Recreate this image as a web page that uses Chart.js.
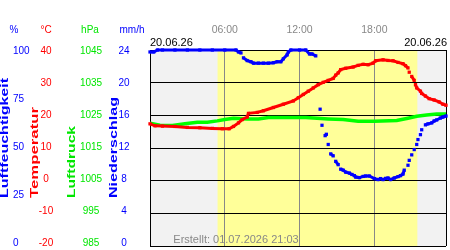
<!DOCTYPE html>
<html>
<head>
<meta charset="utf-8">
<script src="https://cdn.jsdelivr.net/npm/chart.js@4"></script>
<style>
    body { margin: 0; background: #fff; }
    canvas { display: block; }
</style>
</head>
<body>
<canvas id="wetterChart" width="450" height="250"></canvas>
<script>
// Values, hours since midnight (20.06.26)
const humHours = [0, 0.3, 0.6, 1, 2, 3, 4, 5, 6, 6.9, 7.1, 7.3, 7.5, 7.8, 8.1, 8.3, 8.7, 9.1, 9.5, 9.9,
    10.2, 10.5, 10.7, 11.0, 11.1, 11.3, 12.0, 12.5, 12.8, 13.0, 13.3, 13.65, 13.8, 14.05, 14.15, 14.3, 14.5, 14.7, 14.9, 15.1,
    15.3, 15.5, 15.7, 16.0, 16.2, 16.4, 16.5, 16.8, 17.1, 17.3, 17.6, 18.0, 18.3, 18.5, 18.7, 18.9, 19.1, 19.3, 19.6, 19.9,
    20.1, 20.3, 20.4, 20.7, 20.8, 21.0, 21.2, 21.4, 21.5, 21.7, 21.8, 22.1, 22.3, 22.6, 22.8, 23.0, 23.3, 23.5, 23.75];
const humValues = [99, 99, 100, 100, 100, 100, 100, 100, 100, 100, 99, 98.5, 96, 94.6, 94, 93.3, 93.3, 93.3, 93.3, 93.5,
    94, 94, 95.5, 97.5, 99, 100, 100, 100, 98, 98, 97, 69.8, 61.6, 56.3, 57, 51.8, 47, 46, 43.2, 41.5,
    39.2, 38.7, 37.7, 37.2, 36.5, 35.9, 35.2, 34.9, 35.5, 35.7, 35.7, 34.4, 33.9, 34.4, 33.9, 34.5, 34.7, 33.9, 34.7, 35.4,
    35.9, 36.7, 38.7, 41.2, 43.7, 46.5, 49.2, 51.8, 54.3, 56.8, 59.3, 61.8, 62.3, 62.8, 63.8, 64.3, 65.3, 65.8, 66.3];

const tempHours = [0, 0.4, 1, 2, 3, 4, 5, 5.8, 6.35, 6.7, 7.1, 7.4, 7.8, 7.9, 8.6, 9.1, 9.9, 10.7, 11.5, 11.9,
    12.3, 12.7, 13.1, 13.5, 13.9, 14.3, 14.7, 14.9, 15.1, 15.3, 15.7, 16.3, 16.7, 17.1, 17.5, 17.9, 18.1, 18.7, 19.1, 19.5, 19.9,
    20.3, 20.5, 20.7, 20.8, 21.0, 21.2, 21.3, 21.4, 21.7, 21.8, 22.1, 22.4, 22.8, 23.2, 23.5, 23.75];
const tempValues = [17.4, 16.8, 16.7, 16.6, 16.3, 16.2, 16.0, 15.9, 15.9, 16.6, 17.7, 18.7, 19.5, 20.6, 20.9, 21.4, 22.4, 23.4, 24.4, 25.4,
    26.4, 27.4, 28.4, 29.4, 30.1, 30.7, 31.3, 32.3, 33.0, 34.0, 34.4, 34.8, 35.3, 35.6, 35.5, 36.0, 36.7, 37.0, 36.8, 36.7, 36.2,
    35.8, 35.2, 34.5, 33.2, 31.9, 30.7, 29.4, 28.4, 27.4, 26.7, 25.9, 25.1, 24.7, 24.1, 23.4, 23.1];

const pressHours = [0, 0.8, 1.8, 2.8, 3.8, 4.6, 5.4, 6.0, 6.7, 7.8, 8.7, 9.5, 11, 12.5, 14.3, 15.5, 16.7, 18, 19.8, 20.7,
    21.4, 22.2, 23.0, 23.75];
const pressValues = [1022.6, 1022.0, 1021.9, 1022.4, 1022.9, 1022.9, 1023.3, 1023.7, 1024.1, 1023.9, 1023.9, 1024.3, 1024.3, 1024.3, 1023.9, 1023.7, 1023.2, 1023.2, 1023.4, 1024.1,
    1024.7, 1025.1, 1025.4, 1025.4];

// Axis labels
const humTicks = [0, 25, 50, 75, 100];
const tempTicks = [-20, -10, 0, 10, 20, 30, 40];
const pressTicks = [985, 995, 1005, 1015, 1025, 1035, 1045];
const rainTicks = [0, 4, 8, 12, 16, 20, 24];
const hourTicks = [6, 12, 18];
const hourMax = 23.75;   // plot stops a little before midnight

// daylight (yellow band)
const dayStart = 5.42;
const dayEnd = 21.45;

const dateLabel = '20.06.26';
const createdLabel = 'Erstellt: 01.07.2026 21:03';

const colors = {
    blue: '#0000ff',
    red: '#ff0000',
    green: '#00e600',
    lineGreen: '#00ff00',
    grey: '#888888'
};
const FONT = '"Liberation Sans", Arial, sans-serif';

function toPoints(hours, values) {
    return hours.map((h, i) => ({ x: h, y: values[i] }));
}

// don't join dots across big jumps, the original shows loose dots there
const hideJumps = ctx => Math.abs(ctx.p1.y - ctx.p0.y) > 4 ? 'rgba(0,0,0,0)' : undefined;

const daylightPlugin = {
    id: 'daylight',
    beforeDraw(chart) {
        const { ctx, chartArea: a, scales } = chart;
        ctx.save();
        ctx.fillStyle = '#f2f2f2';
        ctx.fillRect(a.left, a.top, a.width, a.height);
        const x0 = scales.x.getPixelForValue(dayStart);
        const x1 = scales.x.getPixelForValue(dayEnd);
        ctx.fillStyle = '#ffff99';
        ctx.fillRect(x0, a.top, x1 - x0, a.height);
        ctx.restore();
    }
};

const sideLabelsPlugin = {
    id: 'sideLabels',
    afterDraw(chart) {
        const ctx = chart.ctx;
        ctx.save();
        ctx.textBaseline = 'middle';
        ctx.font = '10px ' + FONT;

        // unit headers
        ctx.textAlign = 'center';
        [['%', 14, colors.blue], ['°C', 46, colors.red], ['hPa', 90, colors.green], ['mm/h', 132, colors.blue]]
            .forEach(([t, x, c]) => {
                ctx.fillStyle = c;
                ctx.fillText(t, x, 30.5);
            });

        // tick columns
        const rowTop = 51, rowBottom = 243.5;
        function drawColumn(ticks, x, color, align) {
            const step = (rowBottom - rowTop) / (ticks.length - 1);
            ctx.fillStyle = color;
            ctx.textAlign = align;
            ticks.slice().reverse().forEach((t, i) => ctx.fillText(String(t), x, rowTop + i * step));
        }
        drawColumn(humTicks, 13, colors.blue, 'left');
        drawColumn(tempTicks, 46, colors.red, 'center');
        drawColumn(pressTicks, 91, colors.green, 'center');
        drawColumn(rainTicks, 124, colors.blue, 'center');

        // rotated axis titles, stretched along the text like the original
        function drawTitle(text, x, len, color) {
            ctx.save();
            ctx.font = 'bold 11px ' + FONT;
            ctx.fillStyle = color;
            ctx.translate(x, 198);
            ctx.rotate(-Math.PI / 2);
            const w = ctx.measureText(text).width;
            ctx.scale(len / w, 1);
            ctx.textAlign = 'left';
            ctx.fillText(text, 0, 0);
            ctx.restore();
        }
        drawTitle('Luftfeuchtigkeit', 5, 120, colors.blue);
        drawTitle('Temperatur', 35, 91, colors.red);
        drawTitle('Luftdruck', 71.5, 72, colors.green);
        drawTitle('Niederschlag', 113.5, 101, colors.blue);

        // dates and footer
        ctx.font = '11px ' + FONT;
        ctx.fillStyle = '#000';
        ctx.textAlign = 'left';
        ctx.fillText(dateLabel, 150, 42.5);
        ctx.textAlign = 'right';
        ctx.fillText(dateLabel, 447, 42.5);

        ctx.fillStyle = colors.grey;
        ctx.textAlign = 'center';
        ctx.fillText(createdLabel, 236, 240);
        ctx.restore();
    }
};

const pointStyle = color => ({
    borderColor: color,
    backgroundColor: color,
    pointStyle: 'rect',
    pointRadius: 2.3,
    pointBorderWidth: 0,
    borderWidth: 3,
    segment: { borderColor: hideJumps },
    clip: false
});

new Chart(document.getElementById('wetterChart'), {
    type: 'line',
    data: {
        datasets: [
            {
                label: 'Luftfeuchtigkeit',
                data: toPoints(humHours, humValues),
                yAxisID: 'hum',
                ...pointStyle(colors.blue)
            },
            {
                label: 'Temperatur',
                data: toPoints(tempHours, tempValues),
                yAxisID: 'temp',
                ...pointStyle(colors.red)
            },
            {
                label: 'Luftdruck',
                data: toPoints(pressHours, pressValues),
                yAxisID: 'press',
                borderColor: colors.lineGreen,
                borderWidth: 3.5,
                pointRadius: 0
            }
        ]
    },
    options: {
        responsive: false,
        animation: false,
        devicePixelRatio: 1,
        layout: { padding: { left: 150, right: 1, top: 0, bottom: 1 } },
        plugins: {
            legend: { display: false },
            tooltip: { enabled: false }
        },
        scales: {
            x: {
                type: 'linear',
                position: 'top',
                min: 0,
                max: hourMax,
                afterBuildTicks: s => {
                    s.ticks = [0, ...hourTicks, hourMax].map(v => ({ value: v }));
                },
                // fixed height, and no side padding from the tick padding
                afterFit: s => {
                    s.height = 50;
                    s.paddingLeft = 0;
                    s.paddingRight = 0;
                },
                ticks: {
                    color: colors.grey,
                    font: { family: FONT, size: 10.5 },
                    padding: 14,
                    maxRotation: 0,
                    autoSkip: false,
                    callback: v => hourTicks.includes(v) ? String(v).padStart(2, '0') + ':00' : ''
                },
                grid: {
                    drawTicks: false,
                    color: c => hourTicks.includes(c.tick.value) ? colors.grey : '#000'
                },
                border: { color: '#000' }
            },
            temp: {
                position: 'left',
                min: -20,
                max: 40,
                ticks: { display: false, stepSize: 10 },
                grid: { color: '#000', drawTicks: false },
                border: { color: '#000' },
                afterFit: s => { s.width = 0; }
            },
            hum: { display: false, min: 0, max: 100 },
            press: { display: false, min: 985, max: 1045 }
        }
    },
    plugins: [daylightPlugin, sideLabelsPlugin]
});
</script>
</body>
</html>
